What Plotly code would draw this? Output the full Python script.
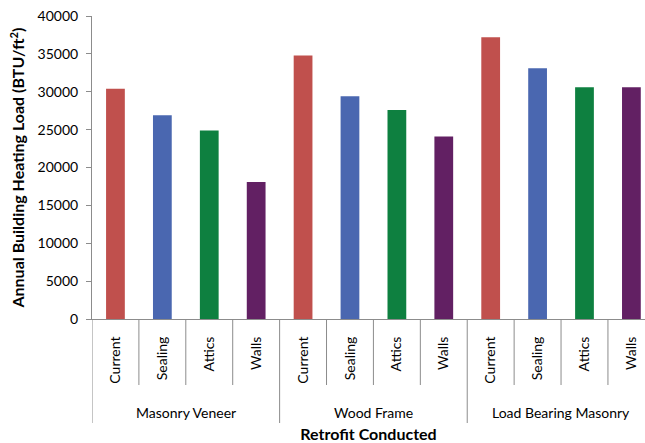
import plotly.graph_objects as go

# Wall types (outer axis level) and retrofit steps (inner axis level)
wall_types = ["Masonry Veneer", "Wood Frame", "Load Bearing Masonry"]
retrofits = ["Current", "Sealing", "Attics", "Walls"]

# Annual building heating load per wall type, one value per retrofit step
masonry_veneer = [30400, 26900, 24900, 18100]
wood_frame = [34800, 29400, 27600, 24100]
load_bearing_masonry = [37200, 33100, 30600, 30600]

retrofit_colors = ["#C0504D", "#4A67B0", "#0E8040", "#622063"]

font_family = "Lato, 'Open Sans', sans-serif"
axis_gray = "#8C8C8C"

# Flatten into one bar per (wall type, retrofit) slot on a positional axis
labels, values, colors = [], [], []
for series in [masonry_veneer, wood_frame, load_bearing_masonry]:
    for step, val, col in zip(retrofits, series, retrofit_colors):
        labels.append(step)
        values.append(val)
        colors.append(col)
positions = list(range(len(values)))
n_per_group = len(retrofits)

fig = go.Figure(
    go.Bar(
        x=positions,
        y=values,
        marker=dict(color=colors, line=dict(width=0)),
        width=0.4,
    )
)

# Plot area height in pixels, used to express offsets below the axis in paper units
height, m_top, m_bot = 443, 16, 124
plot_h = height - m_top - m_bot


def below(px):
    return -px / plot_h


shapes = []
# Short separators between retrofit steps
for p in positions[:-1]:
    b = p + 0.5
    if (p + 1) % n_per_group != 0:
        shapes.append(dict(type="line", xref="x", yref="paper", x0=b, x1=b,
                           y0=0, y1=below(66), line=dict(color=axis_gray, width=1)))
# Long dividers between wall types (including the left edge)
for g in range(len(wall_types)):
    b = g * n_per_group - 0.5
    shapes.append(dict(type="line", xref="x", yref="paper", x0=b, x1=b,
                       y0=0, y1=below(104), line=dict(color=axis_gray, width=1)))

annotations = []
for g, name in enumerate(wall_types):
    center = g * n_per_group + (n_per_group - 1) / 2
    annotations.append(dict(text=name, x=center, xref="x", y=below(93), yref="paper",
                            showarrow=False, yanchor="middle", xanchor="center",
                            font=dict(size=14, color="#000000")))

fig.update_layout(
    width=645,
    height=height,
    margin=dict(l=92, r=0, t=m_top, b=m_bot),
    paper_bgcolor="white",
    plot_bgcolor="white",
    showlegend=False,
    font=dict(family=font_family, size=14, color="#000000"),
    shapes=shapes,
    annotations=annotations,
)

fig.update_xaxes(
    range=[-0.5, 11.29],
    tickvals=positions,
    ticktext=labels,
    showline=True,
    linecolor=axis_gray,
    linewidth=1,
    ticks="",
    tickangle=-90,
    ticklabelstandoff=11,
    showgrid=False,
    zeroline=False,
    tickfont=dict(size=14),
    title=dict(text="<b>Retrofit Conducted</b>", font=dict(size=16), standoff=46),
)

fig.update_yaxes(
    range=[0, 40000],
    tickvals=list(range(0, 40001, 5000)),
    tickformat="d",
    showline=True,
    linecolor=axis_gray,
    linewidth=1,
    ticks="outside",
    ticklen=5,
    tickcolor=axis_gray,
    ticklabelstandoff=5,
    showgrid=False,
    zeroline=False,
    tickfont=dict(size=14),
    title=dict(text="<b>Annual Building Heating Load (BTU/ft<sup>2</sup>)</b>", font=dict(size=16), standoff=8),
)

fig.write_html("out.html")
